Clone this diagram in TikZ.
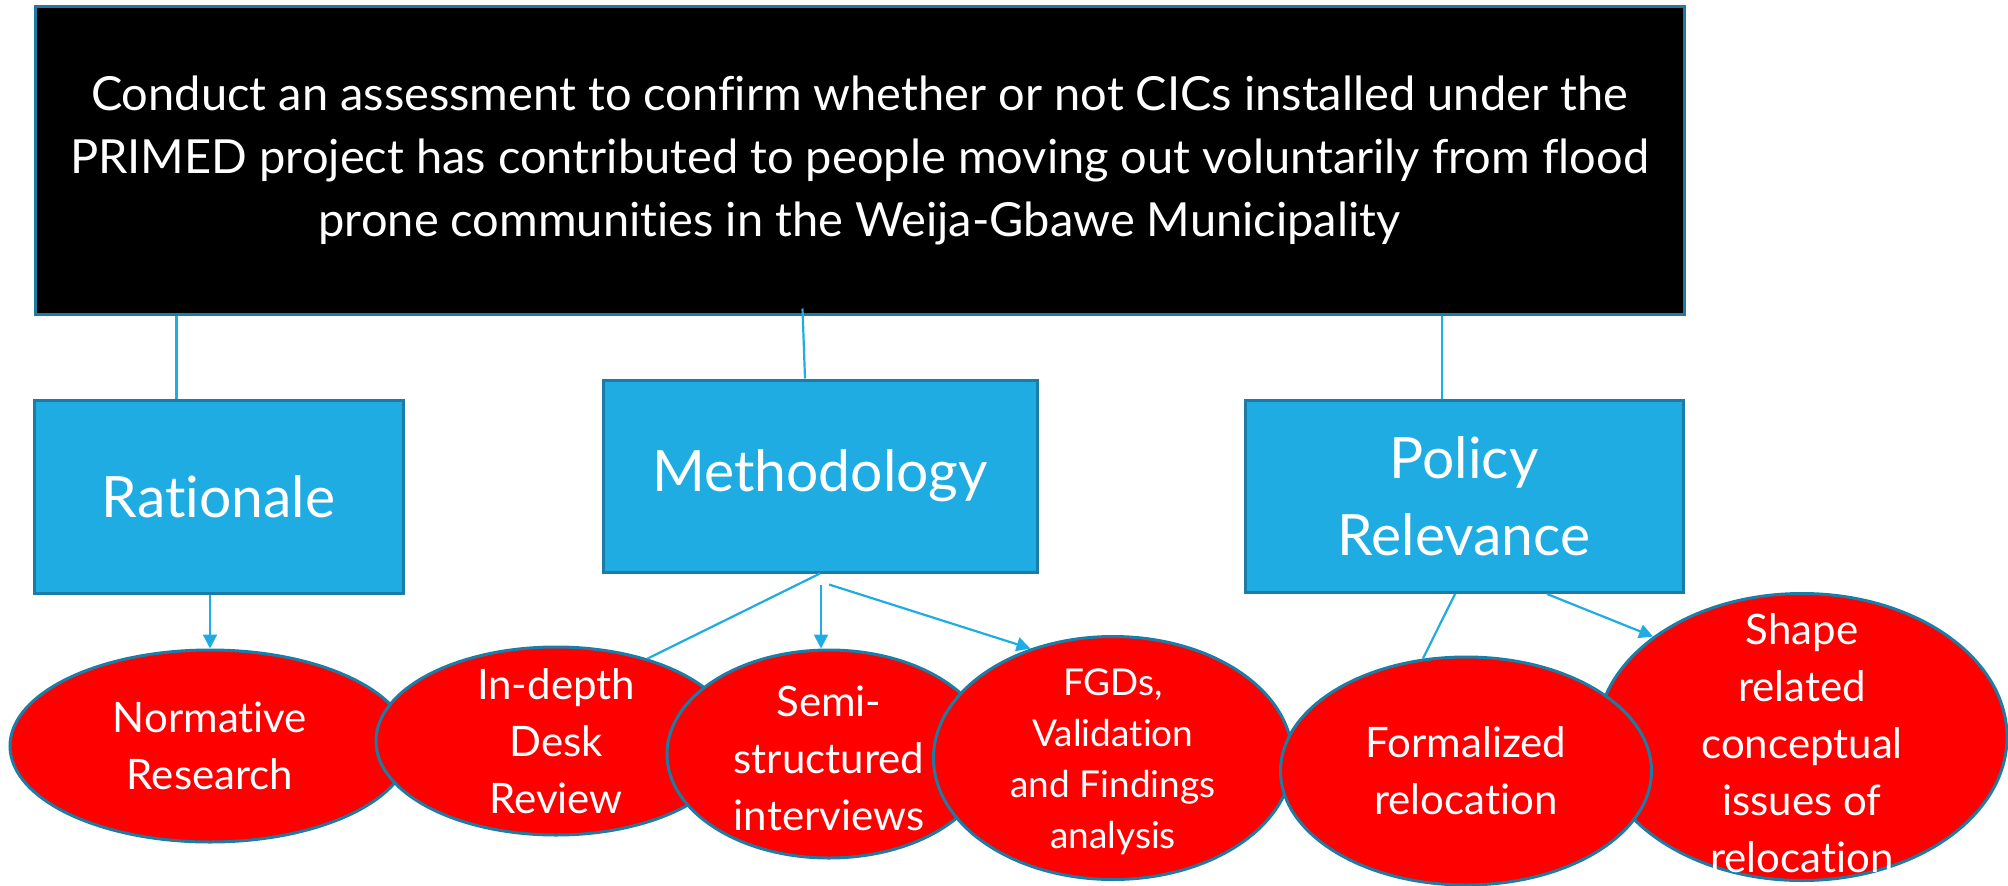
\documentclass[tikz,border=0pt]{standalone}
\usepackage{fontspec}
\setmainfont{Lato}[Ligatures={NoCommon}]
\usetikzlibrary{shapes.geometric,arrows.meta,calc}
\definecolor{boxblue}{HTML}{1FACE2}
\definecolor{edgeblue}{HTML}{1C7CA6}
\definecolor{redfill}{HTML}{FF0000}
\begin{document}
\begin{tikzpicture}[x=1pt,y=-1pt,
  conn/.style={draw=boxblue,line width=2.2pt},
  arr/.style={conn,-{Triangle[length=14pt,width=14pt]}},
  topbox/.style={rectangle,fill=black,draw=edgeblue,line width=3pt,text=white,inner sep=0pt,align=center,font=\fontsize{47}{63}\selectfont},
  catbox/.style={rectangle,fill=boxblue,draw=edgeblue,line width=3pt,text=white,inner sep=0pt,align=center,font=\fontsize{57}{77}\selectfont},
  oval/.style={ellipse,fill=redfill,draw=edgeblue,line width=3pt,inner sep=0pt},
  ovaltext/.style={text=white,inner sep=0pt,align=center,font=\fontsize{42}{57}\selectfont},
  smalltext/.style={ovaltext,font=\fontsize{37}{51}\selectfont}]
\useasboundingbox (0,0) rectangle (2008,886);

% top box
\node[topbox,minimum width=1649pt,minimum height=308pt] (top) at (859.5,160)
  {Conduct an assessment to confirm whether or not CICs installed under the\\
   PRIMED project has contributed to people moving out voluntarily from flood\\
   prone communities in the Weija-Gbawe Municipality};

% category boxes
\node[catbox,minimum width=369pt,minimum height=193pt] (rat) at (218.5,496.5) {Rationale};
\node[catbox,minimum width=434pt,minimum height=192pt] (meth) at (820,476) {Methodology};
\node[catbox,minimum width=438pt,minimum height=192pt] (pol) at (1464,496.5) {Policy\\Relevance};

% connectors from top box
\draw[conn] ($(rat.north)+(-42,0)$) coordinate (r1) -- (r1 |- top.south);
\draw[conn] ($(meth.north)+(-15,0)$) -- ($(top.south)+(-57,-7)$);
\draw[conn] ($(pol.north)+(-22,0)$) coordinate (p1) -- (p1 |- top.south);

% ellipses
\node[oval,minimum width=400pt,minimum height=192pt] (norm) at (210,746) {};
\node[ovaltext] (normT) at (norm.center) {Normative\\Research};
\node[oval,minimum width=360pt,minimum height=188pt] (desk) at (556,741) {};
\node[ovaltext] (deskT) at (desk.center) {In-depth\\Desk\\Review};
\node[oval,minimum width=324pt,minimum height=208pt] (semi) at (829,754) {};
\node[ovaltext] (semiT) at ($(semi.center)+(0,4)$) {Semi-\\structured\\interviews};
\node[oval,minimum width=359pt,minimum height=243pt] (fgd) at (1113,758) {};
\node[smalltext] (fgdT) at ($(fgd.center)+(0,4)$) {FGDs,\\Validation\\and Findings\\analysis};
\node[oval,minimum width=410pt,minimum height=287pt] (shape) at (1802,737) {};
\node[ovaltext] (shapeT) at ($(shape.center)+(0,6)$) {Shape\\related\\conceptual\\issues of\\relocation};
\node[oval,minimum width=371pt,minimum height=228pt] (formal) at (1466,771) {};
\node[ovaltext] (formalT) at (formal.center) {Formalized\\relocation};

% connectors to ellipses
\draw[arr] (norm.north |- rat.south) -- (norm.north);
\draw[conn] (meth.south) -- (desk.42);
\draw[arr] ($(meth.south)+(1,11)$) coordinate (m1) -- (m1 |- semi.north);
\draw[arr] ($(meth.south)+(9,11)$) -- (fgd.127);
\draw[conn] ($(pol.south)+(-9,0)$) -- (formal.111);
\draw[arr] ($(pol.south)+(83,0)$) -- (shape.146);
\end{tikzpicture}
\end{document}
